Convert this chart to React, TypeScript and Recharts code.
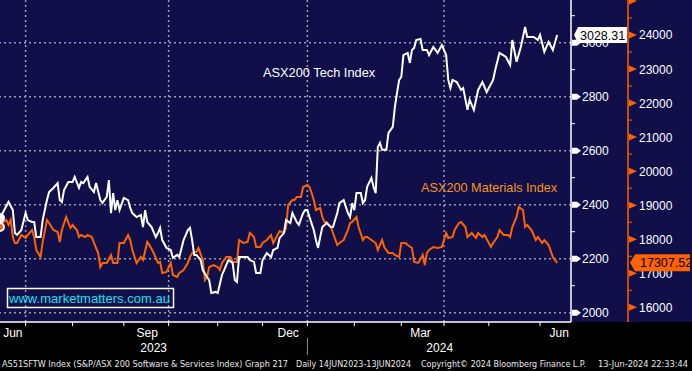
import React from 'react';
import { LineChart, Line, XAxis, YAxis, ReferenceLine } from 'recharts';

// ---- Data (trading-day index from 14 Jun 2023) ----
const techDays = [0,4,6,7,8,10,12,13,15,16,17,19,20,22,23,25,27,28,29,30,32,34,35,37,38,39,41,42,44,45,47,48,50,51,52,53,54,55,56,58,60,61,62,64,66,67,68,69,71,73,74,75,76,78,80,81,83,84,86,88,89,90,91,92,94,95,97,98,99,101,102,104,105,107,109,110,111,112,114,116,117,119,120,122,123,125,127,128,130,131,133,134,136,137,139,140,142,143,144,145,147,148,149,150,151,153,155,156,158,159,161,163,164,165,166,167,169,170,171,172,174,175,176,177,178,179,181,182,184,185,186,187,188,189,191,192,193,194,195,197,198,200,201,203,205,207,209,210,211,212,214,216,217,219,220,222,224,226,228,231,232,234,237,239,240,242,244,246,247,250,252,253,255,257,259,261];
const techValues = [2351,2410,2380,2295,2288,2306,2369,2343,2336,2336,2280,2280,2343,2417,2447,2462,2480,2417,2410,2454,2484,2484,2503,2462,2484,2480,2503,2466,2447,2480,2417,2406,2429,2491,2369,2443,2380,2417,2380,2425,2417,2388,2369,2354,2362,2317,2380,2336,2317,2280,2295,2314,2269,2240,2232,2203,2214,2206,2269,2306,2314,2269,2214,2214,2195,2158,2132,2121,2073,2077,2073,2140,2158,2195,2184,2121,2114,2206,2206,2206,2195,2188,2147,2147,2195,2221,2206,2232,2240,2277,2295,2343,2332,2369,2336,2325,2369,2380,2380,2354,2306,2269,2240,2280,2317,2332,2317,2317,2369,2406,2417,2369,2354,2406,2380,2443,2443,2406,2417,2466,2499,2466,2443,2614,2629,2603,2603,2666,2688,2762,2814,2862,2873,2954,2962,2925,2973,2980,3010,3014,2973,2973,2954,2984,2962,2991,2954,2862,2832,2862,2854,2825,2832,2751,2788,2751,2825,2854,2817,2862,2899,2962,2947,2917,3010,2929,2984,3058,3021,3021,3010,3029,2966,3003,2973,3028.31];

const matDays = [0,1,3,4,5,6,7,8,10,12,13,15,16,17,19,20,22,23,25,27,28,29,31,33,34,36,37,38,40,41,43,45,46,47,48,50,52,53,55,56,58,60,61,62,64,66,67,69,70,72,74,75,76,78,80,81,83,84,86,88,89,90,92,93,95,96,97,98,100,102,103,104,106,108,109,111,112,114,116,117,119,120,122,123,125,127,128,130,131,133,134,135,137,138,139,141,142,144,145,146,147,148,150,151,152,153,155,156,158,159,161,163,164,165,167,168,170,171,172,174,176,177,179,180,182,184,185,187,188,190,191,193,194,196,198,199,200,201,203,205,207,209,210,212,213,215,216,218,219,221,223,224,226,227,230,231,233,234,236,238,239,240,242,243,245,246,247,249,251,252,254,255,257,259,261];
const matValues = [18359,18477,18565,18418,18565,18065,17889,17889,18124,18036,18124,18271,18065,17683,17478,17919,18565,18477,18271,18212,17919,18271,18653,18330,18418,18271,18065,18124,18065,18124,18065,17742,17595,17184,17302,17302,17537,17302,17302,17889,17889,18124,17977,17683,17302,17478,17390,17919,17830,17595,17302,17331,17008,17037,17302,16949,16890,17008,17096,17302,17478,17595,17625,17742,17390,16802,16890,17184,17243,17184,17096,17302,17478,17478,17331,17331,17977,17889,17919,18183,18065,17772,17772,17889,17977,18124,17889,18124,18242,18183,18330,19006,19152,19152,19241,19241,19534,19593,19534,19358,19152,18859,18917,18653,18506,18506,18359,18183,17830,17889,17977,18271,18477,18506,18653,18359,17977,18065,18065,17977,17889,17683,17977,17772,17595,17595,17537,17478,17889,17889,17830,17742,17331,17302,17537,17243,17595,17683,17772,17742,17772,18183,18036,18065,18271,18477,18506,18359,18065,18183,18036,18183,18065,18124,17772,17889,18065,18271,18124,18124,18065,18359,18653,18947,18859,18359,18418,18271,17977,18065,17889,17977,17830,17478,17307.52];

// axis ticks
const techTicks = [2000,2100,2200,2300,2400,2500,2600,2700,2800,2900,3000,3100];
const techGrid = [2000,2200,2400,2600,2800,3000];
const matTicks = [16000,16500,17000,17500,18000,18500,19000,19500,20000,20500,21000,21500,22000,22500,23000,23500,24000,24500,25000];
const monthStartDays = [12,34,58,79,102,123,144,166,188,208,229,253];
const quarterDays = [12,79,144,208];
const yearBreakDay = 144;
const monthLabelDays = [6,69,135,197,262];
const monthLabels = ['Jun','Sep','Dec','Mar','Jun'];
const yearLabelDays = [72,206];
const yearLabels = ['2023','2024'];

const lastTech = techValues[techValues.length - 1];
const lastMat = matValues[matValues.length - 1];

// merged rows
const rowMap = new Map<number, any>();
techDays.forEach((d, i) => { rowMap.set(d, { ...(rowMap.get(d) || { day: d }), tech: techValues[i] }); });
matDays.forEach((d, i) => { rowMap.set(d, { ...(rowMap.get(d) || { day: d }), mat: matValues[i] }); });
const rows = Array.from(rowMap.values()).sort((a, b) => a.day - b.day);

const FONT = '"Liberation Sans", Arial, sans-serif';
const NAVY = '#100f4a';
const ORANGE = '#ff6200';
const GRID = '#9d9db0';
const TECH_AXIS = 0;
const MAT_AXIS = 1;

const XTick = (props: any) => {
  const { x, y, payload } = props;
  const v = payload.value;
  const mi = monthLabelDays.indexOf(v);
  const yi = yearLabelDays.indexOf(v);
  if (mi >= 0) {
    return <text x={x} y={y + 11} textAnchor="middle" dominantBaseline="central" fill="#fff" fontSize={12} fontFamily={FONT}>{monthLabels[mi]}</text>;
  }
  if (yi >= 0) {
    return <text x={x} y={y + 26} textAnchor="middle" dominantBaseline="central" fill="#fff" fontSize={12} fontFamily={FONT}>{yearLabels[yi]}</text>;
  }
  return (
    <g>
      <line x1={x} y1={y} x2={x} y2={y + 4} stroke="#fff" strokeWidth={1} />
      {v === yearBreakDay && <line x1={x} y1={y + 16} x2={x} y2={y + 33} stroke="#8c8c8c" strokeWidth={1} />}
    </g>
  );
};

const TechTick = (props: any) => {
  const { x, y, payload } = props;
  const v = payload.value;
  if (v === lastTech) {
    return (
      <g>
        <polygon points={`${x + 3},${y} ${x + 7},${y - 8} ${x + 56},${y - 8} ${x + 56},${y + 8} ${x + 7},${y + 8}`} fill="#fff" />
        <text x={x + 9} y={y + 0.5} dominantBaseline="central" fill="#000" fontSize={12.5} fontFamily={FONT}>{v.toFixed(2)}</text>
      </g>
    );
  }
  if (v % 200 === 0) {
    return (
      <g>
        <polygon points={`${x + 1},${y - 3} ${x + 6},${y - 3} ${x + 10},${y} ${x + 6},${y + 3} ${x + 1},${y + 3}`} fill="#fff" />
        <text x={x + 11} y={y + 0.5} dominantBaseline="central" fill="#fff" fontSize={12} fontFamily={FONT}>{v}</text>
      </g>
    );
  }
  return <line x1={x} y1={y} x2={x + 4} y2={y} stroke="#fff" strokeWidth={1} />;
};

const MatTick = (props: any) => {
  const { x, y, payload } = props;
  const v = payload.value;
  if (v === lastMat) {
    return (
      <g>
        <polygon points={`${x + 2},${y} ${x + 7},${y - 8.5} ${x + 62},${y - 8.5} ${x + 62},${y + 8.5} ${x + 7},${y + 8.5}`} fill={ORANGE} />
        <text x={x + 12} y={y + 0.5} dominantBaseline="central" fill="#000" fontSize={12.5} fontFamily={FONT}>{v.toFixed(2)}</text>
      </g>
    );
  }
  if (v % 1000 === 0) {
    return (
      <g>
        <polygon points={`${x + 1},${y - 3.5} ${x + 9},${y} ${x + 1},${y + 3.5}`} fill={ORANGE} />
        {y > 8 && <text x={x + 11} y={y + 0.5} dominantBaseline="central" fill="#fff" fontSize={12} fontFamily={FONT}>{v}</text>}
      </g>
    );
  }
  return <line x1={x} y1={y} x2={x + 4} y2={y} stroke={ORANGE} strokeWidth={1} />;
};

export default function App() {
  return (
    <div style={{ position: 'absolute', left: 0, top: 0, width: 692, height: 371, overflow: 'hidden', background: `linear-gradient(${NAVY} 0px, ${NAVY} 322px, #000 322px, #000 371px)` }}>
      <style>{`body{margin:0;background:#000}`}</style>
      <LineChart width={692} height={371} data={rows} margin={{ top: 0, right: 0, bottom: 0, left: 0 }} style={{ fontFamily: FONT }}>
        <XAxis
          dataKey="day"
          type="number"
          domain={[0, 267.5]}
          allowDataOverflow
          ticks={[...monthStartDays, ...monthLabelDays, ...yearLabelDays]}
          interval={0}
          tick={<XTick />}
          tickLine={false}
          tickSize={0}
          tickMargin={0}
          axisLine={{ stroke: '#fff', strokeWidth: 1.5 }}
          height={49}
        />
        <YAxis
          yAxisId={TECH_AXIS}
          orientation="right"
          type="number"
          domain={[1965.6, 3158]}
          allowDataOverflow
          ticks={[...techTicks, lastTech]}
          interval={0}
          tick={<TechTick />}
          tickLine={false}
          tickSize={0}
          tickMargin={0}
          axisLine={{ stroke: '#fff', strokeWidth: 1.5 }}
          width={57}
        />
        <YAxis
          yAxisId={MAT_AXIS}
          orientation="right"
          type="number"
          domain={[15568, 25028]}
          allowDataOverflow
          ticks={[...matTicks, lastMat]}
          interval={0}
          tick={<MatTick />}
          tickLine={false}
          tickSize={0}
          tickMargin={0}
          axisLine={{ stroke: ORANGE, strokeWidth: 1.5 }}
          width={64}
        />
        {techGrid.map((v) => (
          <ReferenceLine key={'h' + v} yAxisId={TECH_AXIS} y={v} stroke={GRID} strokeWidth={1.5} strokeDasharray="2 3" />
        ))}
        {quarterDays.map((d) => (
          <ReferenceLine key={'v' + d} yAxisId={TECH_AXIS} x={d} stroke={GRID} strokeWidth={1.5} strokeDasharray="2 3" />
        ))}
        <Line yAxisId={MAT_AXIS} dataKey="mat" type="linear" stroke={ORANGE} strokeWidth={2} dot={false} connectNulls isAnimationActive={false} />
        <Line yAxisId={TECH_AXIS} dataKey="tech" type="linear" stroke="#ffffff" strokeWidth={2} dot={false} connectNulls isAnimationActive={false} />
      </LineChart>
      <svg width={692} height={371} style={{ position: 'absolute', left: 0, top: 0, pointerEvents: 'none' }}>
        <text x={263} y={72} dominantBaseline="central" fill="#fff" fontSize={12.8} fontFamily={FONT}>ASX200 Tech Index</text>
        <text x={421} y={188} dominantBaseline="central" fill="#f7941d" fontSize={12.7} fontFamily={FONT}>ASX200 Materials Index</text>
        <rect x={7.5} y={288.5} width={166} height={19} fill="none" stroke="#fff" strokeWidth={1.5} />
        <text x={9} y={298.5} dominantBaseline="central" fill="#13e2f2" fontSize={13} fontFamily={FONT} textLength={161} lengthAdjust="spacingAndGlyphs">www.marketmatters.com.au</text>
        <g fill="#e8e8e8" fontSize={9} fontFamily='"DejaVu Sans", sans-serif'>
          <text x={2} y={367} textLength={286} lengthAdjust="spacingAndGlyphs">AS51SFTW Index (S&amp;P/ASX 200 Software &amp; Services Index) Graph 217</text>
          <text x={296} y={367} textLength={115} lengthAdjust="spacingAndGlyphs">Daily 14JUN2023-13JUN2024</text>
          <text x={421} y={367} textLength={165} lengthAdjust="spacingAndGlyphs">Copyright© 2024 Bloomberg Finance L.P.</text>
          <text x={598} y={367} textLength={90} lengthAdjust="spacingAndGlyphs">13-Jun-2024 22:33:44</text>
        </g>
      </svg>
    </div>
  );
}
